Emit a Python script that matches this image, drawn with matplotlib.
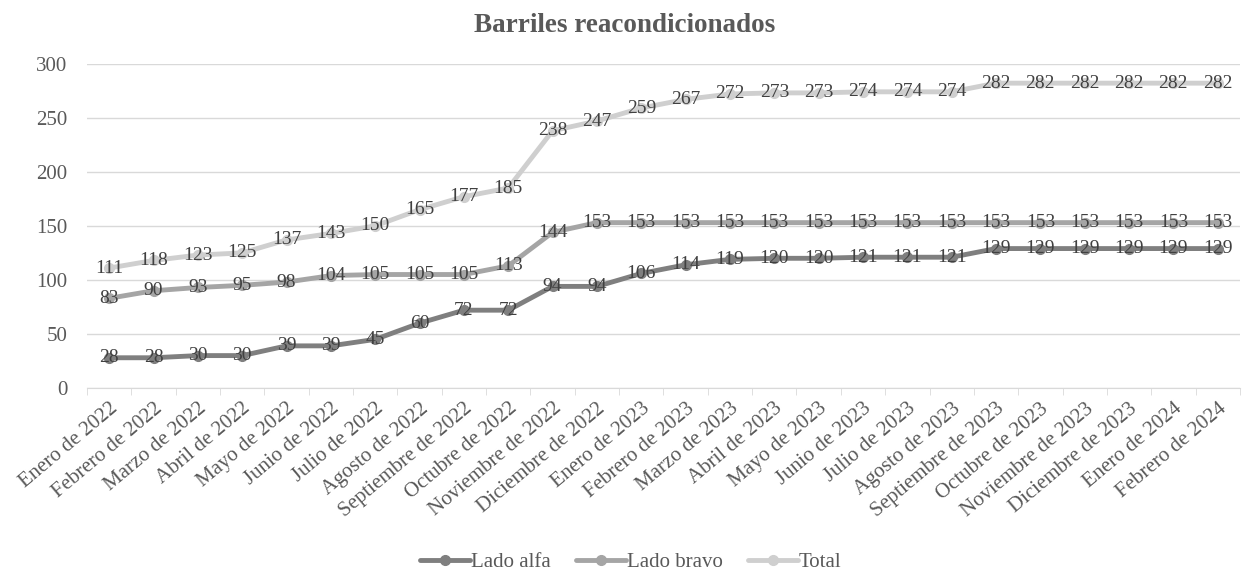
import numpy as np
import matplotlib.pyplot as plt
from matplotlib.ticker import FixedLocator

plt.rcParams['font.family'] = ['Liberation Serif', 'DejaVu Serif']

meses = ['Enero de 2022', 'Febrero de 2022', 'Marzo de 2022', 'Abril de 2022',
         'Mayo de 2022', 'Junio de 2022', 'Julio de 2022', 'Agosto de 2022',
         'Septiembre de 2022', 'Octubre de 2022', 'Noviembre de 2022',
         'Diciembre de 2022', 'Enero de 2023', 'Febrero de 2023', 'Marzo de 2023',
         'Abril de 2023', 'Mayo de 2023', 'Junio de 2023', 'Julio de 2023',
         'Agosto de 2023', 'Septiembre de 2023', 'Octubre de 2023',
         'Noviembre de 2023', 'Diciembre de 2023', 'Enero de 2024', 'Febrero de 2024']
lado_alfa = [28, 28, 30, 30, 39, 39, 45, 60, 72, 72, 94, 94, 106, 114, 119, 120,
             120, 121, 121, 121, 129, 129, 129, 129, 129, 129]
lado_bravo = [83, 90, 93, 95, 98, 104, 105, 105, 105, 113, 144, 153, 153, 153,
              153, 153, 153, 153, 153, 153, 153, 153, 153, 153, 153, 153]
total = [111, 118, 123, 125, 137, 143, 150, 165, 177, 185, 238, 247, 259, 267,
         272, 273, 273, 274, 274, 274, 282, 282, 282, 282, 282, 282]

series = [('Lado alfa', lado_alfa, '#7f7f7f'),
          ('Lado bravo', lado_bravo, '#a5a5a5'),
          ('Total', total, '#cfcfcf')]

fig = plt.figure(figsize=(12.49, 5.74), dpi=100)
ax = fig.add_axes([0.0697, 0.324, 0.923, 0.565])

x = np.arange(len(meses))
for nombre, vals, color in series:
    ax.plot(x, vals, color=color, lw=3.5, marker='o', ms=7, label=nombre,
            solid_capstyle='round', zorder=3)
    for xi, v in zip(x, vals):
        ax.text(xi, v, str(v), ha='center', va='center', fontsize=14,
                color='#404040', zorder=4)

ax.set_xlim(-0.5, len(meses) - 0.5)
ax.set_ylim(0, 300)
ax.set_yticks(range(0, 301, 50))
ax.grid(axis='y', color='#d9d9d9', lw=1)
ax.set_axisbelow(True)

ax.set_xticks(x)
ax.set_xticklabels(meses, rotation=40, ha='right', rotation_mode='anchor',
                   fontsize=15, color='#595959')
ax.tick_params(axis='x', which='major', length=0, pad=8)
ax.xaxis.set_minor_locator(FixedLocator(np.arange(-0.5, len(meses), 1)))
ax.tick_params(axis='x', which='minor', length=5, color='#d9d9d9')
ax.tick_params(axis='y', length=0, labelsize=15, labelcolor='#595959', pad=14)

for s in ['top', 'right', 'left']:
    ax.spines[s].set_visible(False)
ax.spines['bottom'].set_color('#d9d9d9')

fig.suptitle('Barriles reacondicionados', fontsize=19.5, fontweight='bold',
             color='#595959', y=0.978)
fig.legend(loc='lower center', bbox_to_anchor=(0.505, -0.03), ncol=3,
           frameon=False, fontsize=15, handlelength=2.4, columnspacing=1.2,
           handletextpad=0.05, labelcolor='#595959')

fig.savefig('out.png', dpi=100)
